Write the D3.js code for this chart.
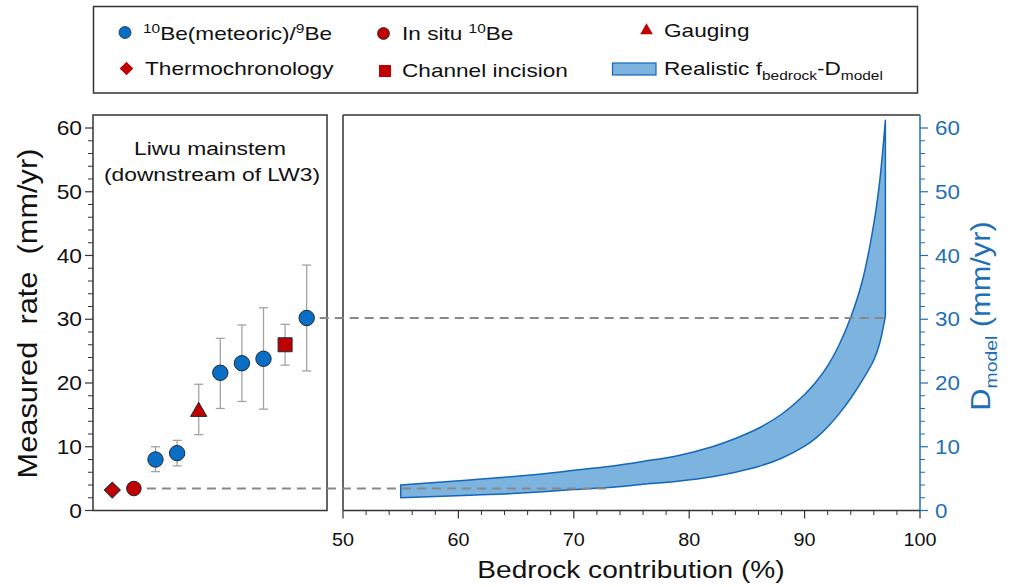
<!DOCTYPE html>
<html><head><meta charset="utf-8">
<script src="https://cdn.jsdelivr.net/npm/d3@7"></script>
<style>
body{margin:0;background:#fff}
svg{display:block}
text{font-family:"Liberation Sans",Arial,Helvetica,sans-serif}
</style>
</head><body>
<svg id="c" width="1012" height="587"></svg>
<script>
// ---------------- DATA ----------------
const methods   = ["Thermochronology","In situ 10Be","10Be/9Be","10Be/9Be","Gauging","10Be/9Be","10Be/9Be","10Be/9Be","Channel incision","10Be/9Be"];
const rates     = [3.2, 3.45, 8.0, 9.0, 15.5, 21.6, 23.1, 23.8, 26.0, 30.2];
const errLow    = [null, null, 6.1, 7.0, 11.9, 16.0, 17.1, 15.9, 22.8, 21.9];
const errHigh   = [null, null, 10.0, 11.0, 19.8, 27.0, 29.1, 31.8, 29.2, 38.5];

const bedrockPct = [55, 58, 61, 64, 67, 70, 73, 76, 79, 82, 84, 86, 88, 90, 91, 92, 93, 94, 95, 96, 96.5, 97];
const dUpper     = [4.0, 4.4, 4.8, 5.2, 5.7, 6.3, 6.9, 7.7, 8.6, 10.0, 11.3, 12.9, 15.1, 18.2, 20.2, 22.7, 26.0, 30.3, 36.0, 45.0, 51.5, 61.2];
const dLower     = [2.0, 2.2, 2.4, 2.6, 2.9, 3.3, 3.6, 4.1, 4.6, 5.3, 6.0, 6.9, 8.2, 10.1, 11.4, 13.1, 15.2, 17.6, 20.4, 23.6, 26.2, 30.5];

// dashed links: measured rate (index into rates) -> bedrock % where it meets the band
const linkIndex = [9, 1];
const linkPct   = [97, 73];

const yTicks = [0, 10, 20, 30, 40, 50, 60];
const xTicks = [50, 60, 70, 80, 90, 100];

// ---------------- STYLE ----------------
const BLUE = "#0a6ec4", RED = "#c00000", MSTROKE = "#1d2a38";
const AXBLUE = "#1f6fb5", BANDFILL = "#7db4df", BANDSTROKE = "#1467b8";
const FRAME = "#333";

const svg = d3.select("#c");

// ---------------- SCALES ----------------
const y = d3.scaleLinear().domain([0, 60]).range([510.5, 128]);
const xl = d3.scaleLinear().domain([0, methods.length - 1]).range([112.3, 306.7]);
const xr = d3.scaleLinear().domain([50, 100]).range([343, 920]);

const L = {x0: 93, x1: 327, top: 115, bottom: 510.5};
const R = {x0: 343, x1: 920, top: 115, bottom: 510.5};

// text helper
function txt(g, x, y0, o, parts) {
  const t = g.append("text")
    .attr("transform", `translate(${x},${y0})${o.rot ? ` rotate(${o.rot})` : ""} scale(${o.sx || 1},1)`)
    .attr("font-size", o.size)
    .attr("text-anchor", o.anchor || "start")
    .attr("fill", o.fill || "#111");
  if (o.pre) t.attr("xml:space", "preserve").style("white-space", "pre");
  if (typeof parts === "string") { t.text(parts); return t; }
  parts.forEach(p => {
    const s = t.append("tspan").text(p.t);
    if (p.size) s.attr("font-size", p.size);
    if (p.dy) s.attr("dy", p.dy);
  });
  return t;
}

// ---------------- LEGEND ----------------
const lg = svg.append("g");
lg.append("rect").attr("x", 93.5).attr("y", 6.5).attr("width", 824).attr("height", 86.5)
  .attr("fill", "#fff").attr("stroke", FRAME).attr("stroke-width", 1.5);

const symCircle = (r) => d3.symbol(d3.symbolCircle, Math.PI * r * r)();
lg.append("path").attr("d", symCircle(6)).attr("transform", "translate(125,32.5)").attr("fill", BLUE).attr("stroke", MSTROKE).attr("stroke-width", 0.8);
lg.append("path").attr("d", symCircle(6)).attr("transform", "translate(383.5,33.5)").attr("fill", RED).attr("stroke", MSTROKE).attr("stroke-width", 0.8);
lg.append("path").attr("d", d3.symbol(d3.symbolTriangle, 70)()).attr("transform", "translate(646.5,30.5)").attr("fill", RED);
lg.append("path").attr("d", d3.symbol(d3.symbolSquare, 92)()).attr("transform", "translate(126.5,68.5) rotate(45)").attr("fill", RED);
lg.append("path").attr("d", d3.symbol(d3.symbolSquare, 144)()).attr("transform", "translate(385,71)").attr("fill", RED);
lg.append("rect").attr("x", 612.5).attr("y", 63).attr("width", 43.5).attr("height", 12)
  .attr("fill", BANDFILL).attr("stroke", BANDSTROKE).attr("stroke-width", 1.2);

const LS = {size: 19, sx: 1.19};
txt(lg, 143, 40, LS, [{t: "10", size: 13, dy: -7}, {t: "Be(meteoric)/", dy: 7}, {t: "9", size: 13, dy: -7}, {t: "Be", dy: 7}]);
txt(lg, 402, 40, LS, [{t: "In situ "}, {t: "10", size: 13, dy: -7}, {t: "Be", dy: 7}]);
txt(lg, 664, 36.5, LS, "Gauging");
txt(lg, 145, 74.5, LS, "Thermochronology");
txt(lg, 402, 77, LS, "Channel incision");
txt(lg, 664, 74.5, LS, [{t: "Realistic f"}, {t: "bedrock", size: 13, dy: 5}, {t: "-D", dy: -5}, {t: "model", size: 13, dy: 5}]);

// ---------------- LEFT PANEL ----------------
const gl = svg.append("g");
gl.append("rect").attr("x", L.x0).attr("y", L.top).attr("width", L.x1 - L.x0).attr("height", L.bottom - L.top)
  .attr("fill", "none").attr("stroke", FRAME).attr("stroke-width", 1.5);

// left y axis (ticks)
const minorY = d3.range(0, 61, 2).filter(v => v % 10 !== 0);
gl.selectAll("line.maj").data(yTicks).join("line")
  .attr("x1", L.x0 - 8).attr("x2", L.x0).attr("y1", d => y(d)).attr("y2", d => y(d))
  .attr("stroke", FRAME).attr("stroke-width", 1.2);
gl.selectAll("line.min").data(minorY).join("line")
  .attr("x1", L.x0 - 5).attr("x2", L.x0).attr("y1", d => y(d)).attr("y2", d => y(d))
  .attr("stroke", FRAME).attr("stroke-width", 1);
yTicks.forEach(v => txt(gl, 82, y(v) + 7.2, {size: 20, sx: 1.14, anchor: "end"}, String(v)));

txt(svg, 37, 313.5, {size: 27, sx: 1.14, anchor: "middle", rot: -90, pre: true}, "Measured  rate  (mm/yr)");

txt(gl, 210, 155, {size: 19, sx: 1.2, anchor: "middle"}, "Liwu mainstem");
txt(gl, 212, 181, {size: 19, sx: 1.2, anchor: "middle"}, "(downstream of LW3)");

// ---------------- RIGHT PANEL ----------------
const gr = svg.append("g");
// band
const area = d3.area()
  .x((d, i) => xr(bedrockPct[i]))
  .y0((d, i) => y(dLower[i]))
  .y1((d, i) => y(dUpper[i]))
  .curve(d3.curveCatmullRom.alpha(0.5));
gr.append("path").attr("d", area(bedrockPct))
  .attr("fill", BANDFILL).attr("stroke", BANDSTROKE).attr("stroke-width", 1.5).attr("stroke-linejoin", "round");

// frame
gr.append("line").attr("x1", R.x0).attr("x2", R.x1).attr("y1", R.top).attr("y2", R.top).attr("stroke", FRAME).attr("stroke-width", 1.5);
gr.append("line").attr("x1", R.x0).attr("x2", R.x0).attr("y1", R.top).attr("y2", R.bottom).attr("stroke", FRAME).attr("stroke-width", 1.5);
gr.append("line").attr("x1", R.x0).attr("x2", R.x1).attr("y1", R.bottom).attr("y2", R.bottom).attr("stroke", FRAME).attr("stroke-width", 1.5);

// bottom axis
const minorX = d3.range(50, 101, 2).filter(v => v % 10 !== 0);
gr.selectAll("line.xmaj").data(xTicks).join("line")
  .attr("x1", d => xr(d)).attr("x2", d => xr(d)).attr("y1", R.bottom).attr("y2", R.bottom + 8)
  .attr("stroke", FRAME).attr("stroke-width", 1.2);
gr.selectAll("line.xmin").data(minorX).join("line")
  .attr("x1", d => xr(d)).attr("x2", d => xr(d)).attr("y1", R.bottom).attr("y2", R.bottom + 4.5)
  .attr("stroke", FRAME).attr("stroke-width", 1);
xTicks.forEach(v => txt(gr, xr(v), 545.5, {size: 18.5, sx: 1.07, anchor: "middle"}, String(v)));
txt(svg, 631, 577.5, {size: 24, sx: 1.17, anchor: "middle"}, "Bedrock contribution (%)");

// right blue axis
gr.append("line").attr("x1", R.x1).attr("x2", R.x1).attr("y1", R.top).attr("y2", R.bottom).attr("stroke", AXBLUE).attr("stroke-width", 1.5);
gr.selectAll("line.rmaj").data(yTicks).join("line")
  .attr("x1", R.x1).attr("x2", R.x1 + 8).attr("y1", d => y(d)).attr("y2", d => y(d))
  .attr("stroke", AXBLUE).attr("stroke-width", 1.2);
gr.selectAll("line.rmin").data(minorY).join("line")
  .attr("x1", R.x1).attr("x2", R.x1 + 5).attr("y1", d => y(d)).attr("y2", d => y(d))
  .attr("stroke", AXBLUE).attr("stroke-width", 1);
yTicks.forEach(v => txt(gr, 935, y(v) + 7.2, {size: 20, sx: 1.12, fill: AXBLUE}, String(v)));
txt(svg, 990, 316, {size: 27, sx: 1.14, anchor: "middle", rot: -90, fill: AXBLUE},
  [{t: "D"}, {t: "model", size: 17, dy: 7}, {t: " (mm/yr)", dy: -7}]);

// ---------------- DASHED LINKS ----------------
const gd = svg.append("g");
linkIndex.forEach((idx, k) => {
  gd.append("line")
    .attr("x1", xl(idx) + 13).attr("x2", xr(linkPct[k]))
    .attr("y1", y(rates[idx])).attr("y2", y(rates[idx]))
    .attr("stroke", "#888").attr("stroke-width", 2).attr("stroke-dasharray", "9,6");
});

// ---------------- POINTS ----------------
const gp = svg.append("g");
methods.forEach((m, i) => {
  if (errLow[i] != null) {
    const cx = xl(i);
    gp.append("line").attr("x1", cx).attr("x2", cx).attr("y1", y(errLow[i])).attr("y2", y(errHigh[i])).attr("stroke", "#a3a3a3").attr("stroke-width", 1.3);
    [errLow[i], errHigh[i]].forEach(v => gp.append("line").attr("x1", cx - 4.5).attr("x2", cx + 4.5).attr("y1", y(v)).attr("y2", y(v)).attr("stroke", "#a3a3a3").attr("stroke-width", 1.3));
  }
});
methods.forEach((m, i) => {
  const tr = `translate(${xl(i)},${y(rates[i])})`;
  let p;
  if (m === "10Be/9Be") p = gp.append("path").attr("d", symCircle(7.7)).attr("transform", tr).attr("fill", BLUE);
  else if (m === "In situ 10Be") p = gp.append("path").attr("d", symCircle(7.3)).attr("transform", tr).attr("fill", RED);
  else if (m === "Gauging") p = gp.append("path").attr("d", d3.symbol(d3.symbolTriangle, 115)()).attr("transform", tr).attr("fill", RED);
  else if (m === "Thermochronology") p = gp.append("path").attr("d", d3.symbol(d3.symbolSquare, 128)()).attr("transform", tr + " rotate(45)").attr("fill", RED);
  else p = gp.append("path").attr("d", d3.symbol(d3.symbolSquare, 196)()).attr("transform", tr).attr("fill", RED);
  p.attr("stroke", MSTROKE).attr("stroke-width", 1);
});
</script>
</body></html>
